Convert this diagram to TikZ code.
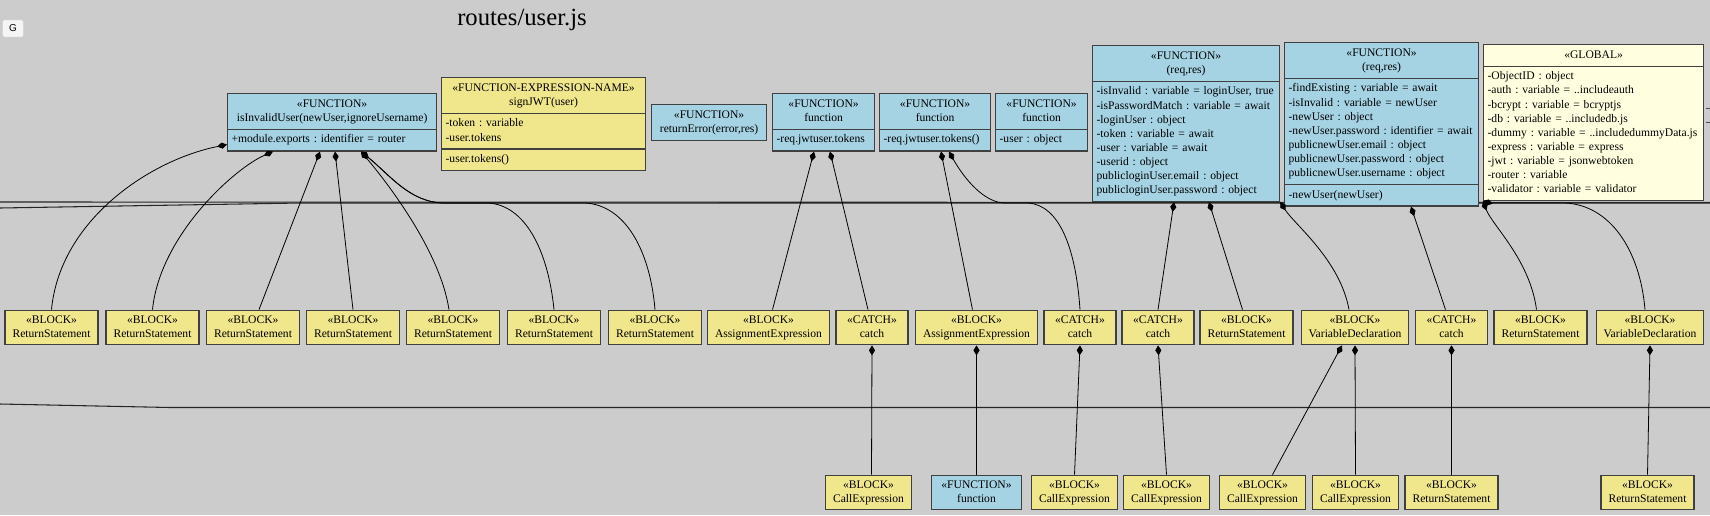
\documentclass[tikz,border=0pt]{standalone}
\usepackage{fontspec}
\setmainfont{Liberation Serif}
\setsansfont{Liberation Sans}
\usetikzlibrary{shapes.multipart,arrows.meta,calc}

\definecolor{fnblue}{RGB}{165,211,228}
\definecolor{blockkhaki}{RGB}{240,230,140}
\definecolor{globalcream}{RGB}{255,255,224}
\definecolor{canvasgray}{RGB}{204,204,204}
\definecolor{framegray}{RGB}{64,64,64}

\newcommand{\umlfont}{\fontsize{8.7}{10.55}\selectfont\frenchspacing}
\newcommand{\stereo}[2]{\strut«#1»\\\strut#2}
\newcommand{\umlhead}[2]{\centering\stereo{#1}{#2}\par}

\tikzset{
  umlbox/.style={rectangle split, rectangle split parts=#1, draw=framegray,
    line width=0.9pt, font=\umlfont, inner xsep=3pt,
    inner ysep=2.4pt, anchor=north west},
  blockbox/.style={draw=framegray, line width=0.9pt, fill=blockkhaki,
    font=\umlfont, align=center, inner xsep=5.6pt, inner ysep=2.4pt,
    minimum width=54pt},
  gbtn/.style={draw=black!20, fill=white!96!black, rounded corners=1.2pt,
    minimum width=16pt, minimum height=13pt, inner sep=0pt,
    font=\sffamily\fontsize{7.5}{9}\selectfont},
  comp/.style={{Diamond[length=7.5pt,width=4.6pt]}-, line width=0.6pt, black},
  rail/.style={line width=0.8pt, black!85},
}

\begin{document}
\begin{tikzpicture}[x=0.75pt,y=-0.75pt]
\path[use as bounding box, fill=canvasgray] (0,0) rectangle (1710,515);

% Long edges running off the page
\draw[rail] (0,202) -- (1710,202.5);
\draw[rail] (0,208) -- (300,203) -- (1710,203);
\draw[rail] (0,404) -- (170,407.5) -- (1710,407.5);
\draw[black!70, line width=0.6pt] (1706,108) -- (1710,108) (1706,122) -- (1710,122);

% Title
\node[font=\fontsize{18.5}{22}\selectfont, anchor=base] (title) at (522,25) {routes/user.js};
\node[gbtn] (gkey) at (13,28.5) {G};

% Function scopes
\node[umlbox=2, text width=150.75pt, fill=fnblue] (isinv) at (227,93)
  {\umlhead{FUNCTION}{isInvalidUser(newUser,ignoreUsername)}
   \nodepart{two}\strut+module.exports : identifier = router\strut};
\node[umlbox=3, text width=147pt, fill=blockkhaki] (signjwt) at (441,77)
  {\umlhead{FUNCTION-EXPRESSION-NAME}{signJWT(user)}
   \nodepart{two}\strut-token : variable\\-user.tokens\strut
   \nodepart{three}\strut-user.tokens()\strut};
\node[umlbox=1, text width=80.25pt, fill=fnblue] (reterr) at (651,104)
  {\umlhead{FUNCTION}{returnError(error,res)}};
\node[umlbox=2, text width=70.5pt, fill=fnblue] (fnA) at (772,93)
  {\umlhead{FUNCTION}{function}
   \nodepart{two}\strut-req.jwtuser.tokens\strut};
\node[umlbox=2, text width=77.25pt, fill=fnblue] (fnB) at (879,93)
  {\umlhead{FUNCTION}{function}
   \nodepart{two}\strut-req.jwtuser.tokens()\strut};
\node[umlbox=2, text width=63pt, fill=fnblue] (fnC) at (995,93)
  {\umlhead{FUNCTION}{function}
   \nodepart{two}\strut-user : object\strut};
\node[umlbox=2, text width=134.25pt, fill=fnblue] (login) at (1092,45)
  {\umlhead{FUNCTION}{(req,res)}
   \nodepart{two}\strut-isInvalid : variable = loginUser, true\\
   -isPasswordMatch : variable = await\\-loginUser : object\\
   -token : variable = await\\-user : variable = await\\-userid : object\\
   publicloginUser.email : object\\publicloginUser.password : object\strut};
\node[umlbox=3, text width=139.5pt, fill=fnblue] (register) at (1284,42)
  {\umlhead{FUNCTION}{(req,res)}
   \nodepart{two}\strut-findExisting : variable = await\\
   -isInvalid : variable = newUser\\-newUser : object\\
   -newUser.password : identifier = await\\publicnewUser.email : object\\
   publicnewUser.password : object\\publicnewUser.username : object\strut
   \nodepart{three}\strut-newUser(newUser)\strut};
\node[umlbox=2, text width=159pt, fill=globalcream] (global) at (1483,44)
  {\centering\strut«GLOBAL»\strut\par
   \nodepart{two}\strut-ObjectID : object\\-auth : variable = ..includeauth\\
   -bcrypt : variable = bcryptjs\\-db : variable = ..includedb.js\\
   -dummy : variable = ..includedummyData.js\\-express : variable = express\\
   -jwt : variable = jsonwebtoken\\-router : variable\\
   -validator : variable = validator\strut};

% Blocks
\node[blockbox] (ret1) at (51.5,327.5) {\stereo{BLOCK}{ReturnStatement}};
\node[blockbox] (ret2) at (152.5,327.5) {\stereo{BLOCK}{ReturnStatement}};
\node[blockbox] (ret3) at (253,327.5) {\stereo{BLOCK}{ReturnStatement}};
\node[blockbox] (ret4) at (353,327.5) {\stereo{BLOCK}{ReturnStatement}};
\node[blockbox] (ret5) at (453,327.5) {\stereo{BLOCK}{ReturnStatement}};
\node[blockbox] (ret6) at (554,327.5) {\stereo{BLOCK}{ReturnStatement}};
\node[blockbox] (ret7) at (655,327.5) {\stereo{BLOCK}{ReturnStatement}};
\node[blockbox] (asg1) at (768.5,327.5) {\stereo{BLOCK}{AssignmentExpression}};
\node[blockbox] (catch1) at (872,327.5) {\stereo{CATCH}{catch}};
\node[blockbox] (asg2) at (976.5,327.5) {\stereo{BLOCK}{AssignmentExpression}};
\node[blockbox] (catch2) at (1080,327.5) {\stereo{CATCH}{catch}};
\node[blockbox] (catch3) at (1158,327.5) {\stereo{CATCH}{catch}};
\node[blockbox] (ret8) at (1246.5,327.5) {\stereo{BLOCK}{ReturnStatement}};
\node[blockbox] (vdecl1) at (1355,327.5) {\stereo{BLOCK}{VariableDeclaration}};
\node[blockbox] (catch4) at (1451.5,327.5) {\stereo{CATCH}{catch}};
\node[blockbox] (ret9) at (1540.5,327.5) {\stereo{BLOCK}{ReturnStatement}};
\node[blockbox] (vdecl2) at (1650,327.5) {\stereo{BLOCK}{VariableDeclaration}};

% Inner calls
\node[blockbox] (call1) at (868.5,492.5) {\stereo{BLOCK}{CallExpression}};
\node[blockbox, fill=fnblue, minimum width=68pt] (fnlit) at (976.5,492.5) {\stereo{FUNCTION}{function}};
\node[blockbox] (call2) at (1074.5,492.5) {\stereo{BLOCK}{CallExpression}};
\node[blockbox] (call3) at (1166.5,492.5) {\stereo{BLOCK}{CallExpression}};
\node[blockbox] (call4) at (1262.5,492.5) {\stereo{BLOCK}{CallExpression}};
\node[blockbox] (call5) at (1355.5,492.5) {\stereo{BLOCK}{CallExpression}};
\node[blockbox] (ret10) at (1451.5,492.5) {\stereo{BLOCK}{ReturnStatement}};
\node[blockbox] (ret11) at (1647.5,492.5) {\stereo{BLOCK}{ReturnStatement}};

% Composition edges, upper level
\draw[comp] ($(isinv.south west)+(0,-7)$) .. controls (150,160) and (60,220) .. (ret1.north);
\draw[comp] ($(isinv.south west)+(46,0)$) .. controls (235,168) and (160,235) .. (ret2.north);
\draw[comp] ($(isinv.south west)+(93,0)$) -- ($(ret3.north)+(6,0)$);
\draw[comp] ($(isinv.south west)+(108,0)$) -- (ret4.north);
\draw[comp] ($(isinv.south west)+(134,0)$) .. controls (385,180) and (440,250) .. ($(ret5.north)+(-4,0)$);
\draw[comp] ($(isinv.south west)+(134,0)$) .. controls (390,175) and (410,203) .. (445,203)
  -- (488,203) .. controls (525,205) and (548,250) .. (ret6.north);
\draw[comp] ($(isinv.south west)+(134,0)$) .. controls (390,175) and (410,203) .. (445,203)
  -- (585,203) .. controls (625,205) and (650,250) .. (ret7.north);
\draw[comp] ($(fnA.south west)+(42,0)$) -- ($(asg1.north)+(4,0)$);
\draw[comp] ($(fnA.south west)+(58,0)$) -- ($(catch1.north)+(-4,0)$);
\draw[comp] ($(fnB.south west)+(62,0)$) -- ($(asg2.north)+(-4,0)$);
\draw[comp] ($(fnB.south west)+(70,0)$) .. controls (965,180) and (985,203) .. (1005,203)
  -- (1028,203) .. controls (1060,205) and (1076,250) .. (catch2.north);
\draw[comp] ($(login.south west)+(82,0)$) -- (catch3.north);
\draw[comp] ($(login.south west)+(117,0)$) -- ($(ret8.north)+(-4,0)$);
\draw[comp] (login.south east) .. controls (1295,225) and (1340,260) .. ($(vdecl1.north)+(-6,0)$);
\draw[comp] ($(register.south west)+(127,0)$) -- ($(catch4.north)+(-6,0)$);
\draw[comp] (global.south west) .. controls (1492,225) and (1530,260) .. ($(ret9.north)+(-4,0)$);
\draw[comp] (global.south west) .. controls (1490,203) .. (1505,203)
  -- (1565,203) .. controls (1610,205) and (1640,250) .. ($(vdecl2.north)+(-5,0)$);

% Composition edges, lower level
\draw[comp] (catch1.south) -- ($(call1.north)+(3,0)$);
\draw[comp] (asg2.south) -- (fnlit.north);
\draw[comp] (catch2.south) -- (call2.north);
\draw[comp] (catch3.south) -- (call3.north);
\draw[comp] ($(vdecl1.south)+(-13,0)$) -- ($(call4.north)+(10,0)$);
\draw[comp] (vdecl1.south) -- (call5.north);
\draw[comp] (catch4.south) -- (ret10.north);
\draw[comp] (vdecl2.south) -- (ret11.north);
\end{tikzpicture}
\end{document}
